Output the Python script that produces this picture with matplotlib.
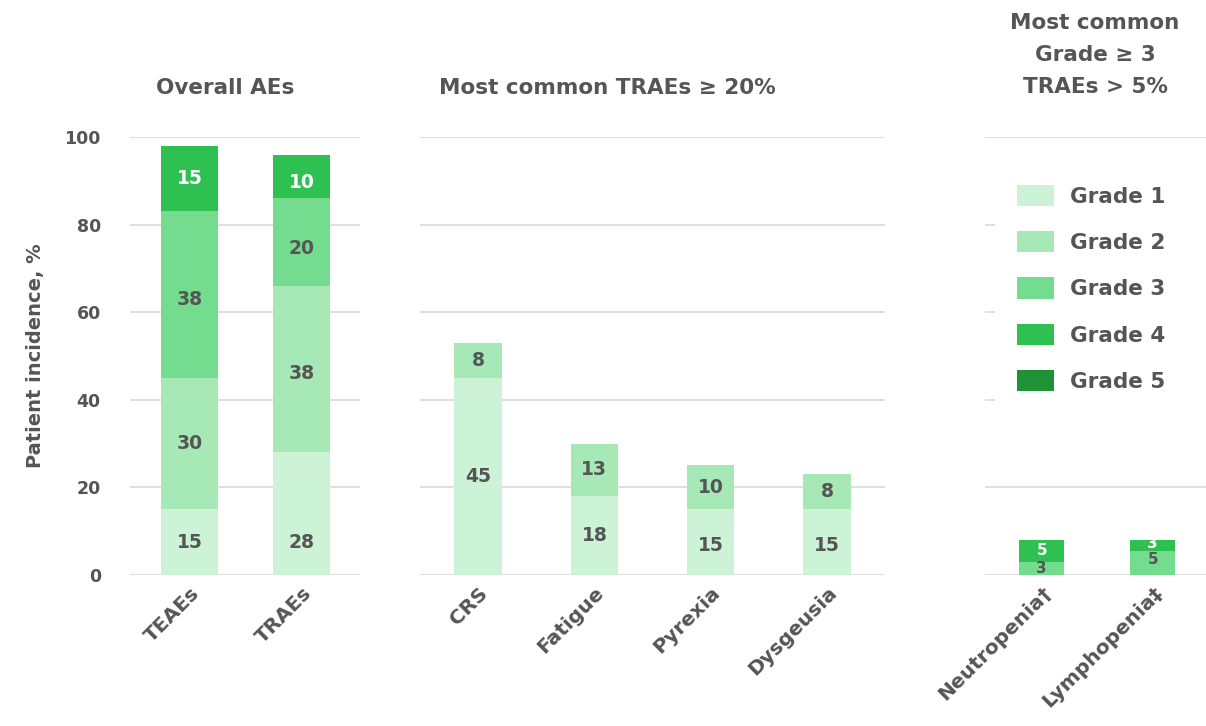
import matplotlib
matplotlib.use("Agg")
import matplotlib.pyplot as plt
from matplotlib.patches import Patch, Rectangle
import numpy as np

plt.rcParams['font.family'] = ['DejaVu Sans']

grades = ["Grade 1", "Grade 2", "Grade 3", "Grade 4", "Grade 5"]
colors = ["#cdf3d6", "#a6e9b6", "#74dc8e", "#2ec152", "#1f9238"]
text_dark = "#555555"

# Panel 1: overall AEs
overall_cats = ["TEAEs", "TRAEs"]
overall_g1 = [15, 28]
overall_g2 = [30, 38]
overall_g3 = [38, 20]
overall_g4 = [15, 10]

# Panel 2: most common TRAEs >= 20%
common_cats = ["CRS", "Fatigue", "Pyrexia", "Dysgeusia"]
common_g1 = [45, 18, 15, 15]
common_g2 = [8, 12, 10, 8]
common_g2_labels = [8, 13, 10, 8]

# Panel 3: most common grade >= 3 TRAEs > 5%
g3plus_cats = ["Neutropenia\u2020", "Lymphopenia\u2021"]
g3plus_g3 = [3, 5.5]
g3plus_g4 = [5, 2.5]
g3plus_g3_labels = [3, 5]
g3plus_g4_labels = [5, 3]

W, H = 1206, 726
fig = plt.figure(figsize=(W / 100, H / 100), dpi=100)

def ax_at(x0, x1, y0=575, y1=137):
    return fig.add_axes([x0 / W, 1 - y0 / H, (x1 - x0) / W, (y0 - y1) / H])

def style(ax, xlim, show_y=False):
    ax.set_ylim(0, 100)
    ax.set_xlim(*xlim)
    for s in ax.spines.values():
        s.set_visible(False)
    ax.set_yticks([0, 20, 40, 60, 80, 100])
    ax.yaxis.grid(True, color="#d9d9d9", lw=1.2)
    ax.set_axisbelow(True)
    ax.tick_params(axis="both", length=0)
    if show_y:
        ax.tick_params(axis="y", pad=21, labelsize=12.5, labelcolor=text_dark)
        for t in ax.get_yticklabels():
            t.set_fontweight("bold")
    else:
        ax.set_yticklabels([])

def stack(ax, cats, series, labels, width, label_colors, fs=13.5, offsets=None):
    x = np.arange(len(cats))
    bottom = np.zeros(len(cats))
    for si, (vals, ci) in enumerate(series):
        vals = np.array(vals, dtype=float)
        ax.bar(x, vals, width, bottom=bottom, color=colors[ci], edgecolor="none", zorder=2)
        for i, v in enumerate(vals):
            lab = labels[si][i]
            y = bottom[i] + v / 2
            if offsets is not None:
                y += offsets[si][i]
            ax.text(x[i], y, str(lab), ha="center", va="center", fontsize=fs,
                    fontweight="bold", color=label_colors[si], zorder=3)
        bottom += vals
    ax.set_xticks(x)
    ax.set_xticklabels(cats, rotation=45, ha="right", rotation_mode="anchor",
                       fontsize=14.5, fontweight="bold", color=text_dark)
    ax.tick_params(axis="x", pad=6)

# Panel 1
ax1 = ax_at(130, 360)
style(ax1, (-0.536, 1.52), show_y=True)
stack(ax1, overall_cats,
      [(overall_g1, 0), (overall_g2, 1), (overall_g3, 2), (overall_g4, 3)],
      [overall_g1, overall_g2, overall_g3, overall_g4], 0.51,
      [text_dark, text_dark, text_dark, "white"],
      offsets=[[0, -6.5], [0, -1], [-1, -1.5], [0, -1.5]])
ax1.set_ylabel("Patient incidence, %", fontsize=14, fontweight="bold", color=text_dark, labelpad=14)

# Panel 2
ax2 = ax_at(420, 885)
style(ax2, (-0.5, 3.5))
stack(ax2, common_cats, [(common_g1, 0), (common_g2, 1)],
      [common_g1, common_g2_labels], 0.41, [text_dark, text_dark],
      offsets=[[0, 0, -0.7, -0.7], [0, 0, 0, 0]])

# Panel 3
ax3 = ax_at(985, 1206)
style(ax3, (-0.51, 1.48))
stack(ax3, g3plus_cats, [(g3plus_g3, 2), (g3plus_g4, 3)],
      [g3plus_g3_labels, g3plus_g4_labels], 0.41, [text_dark, "white"],
      fs=11, offsets=[[0, 0.9], [0, 0.4]])

# Titles
fig.text(225 / W, 1 - 88 / H, "Overall AEs", ha="center", va="center",
         fontsize=15.5, fontweight="bold", color=text_dark)
fig.text(607 / W, 1 - 88 / H, "Most common TRAEs \u2265 20%", ha="center", va="center",
         fontsize=15.5, fontweight="bold", color=text_dark)
fig.text(1095 / W, 1 - 55 / H, "Most common\nGrade \u2265 3\nTRAEs > 5%", ha="center", va="center",
         fontsize=15.5, fontweight="bold", color=text_dark, linespacing=1.78)

# White panel behind the legend (hides gridlines)
fig.patches.append(Rectangle((995 / W, 1 - 415 / H), (W - 995) / W, (415 - 160) / H,
                             transform=fig.transFigure, facecolor="white",
                             edgecolor="none", zorder=1))

# Legend
handles = [Patch(facecolor=c, edgecolor="none") for c in colors]
leg = fig.legend(handles, grades, loc="upper left",
                 bbox_to_anchor=(1006 / W, 1 - 174 / H), borderaxespad=0,
                 frameon=False,
                 fontsize=15.5, handlelength=1.75, handleheight=1.15,
                 labelspacing=1.13, handletextpad=0.7, borderpad=0.5)
for t in leg.get_texts():
    t.set_fontweight("bold")
    t.set_color(text_dark)

fig.savefig("out.png", dpi=100, facecolor="white")
